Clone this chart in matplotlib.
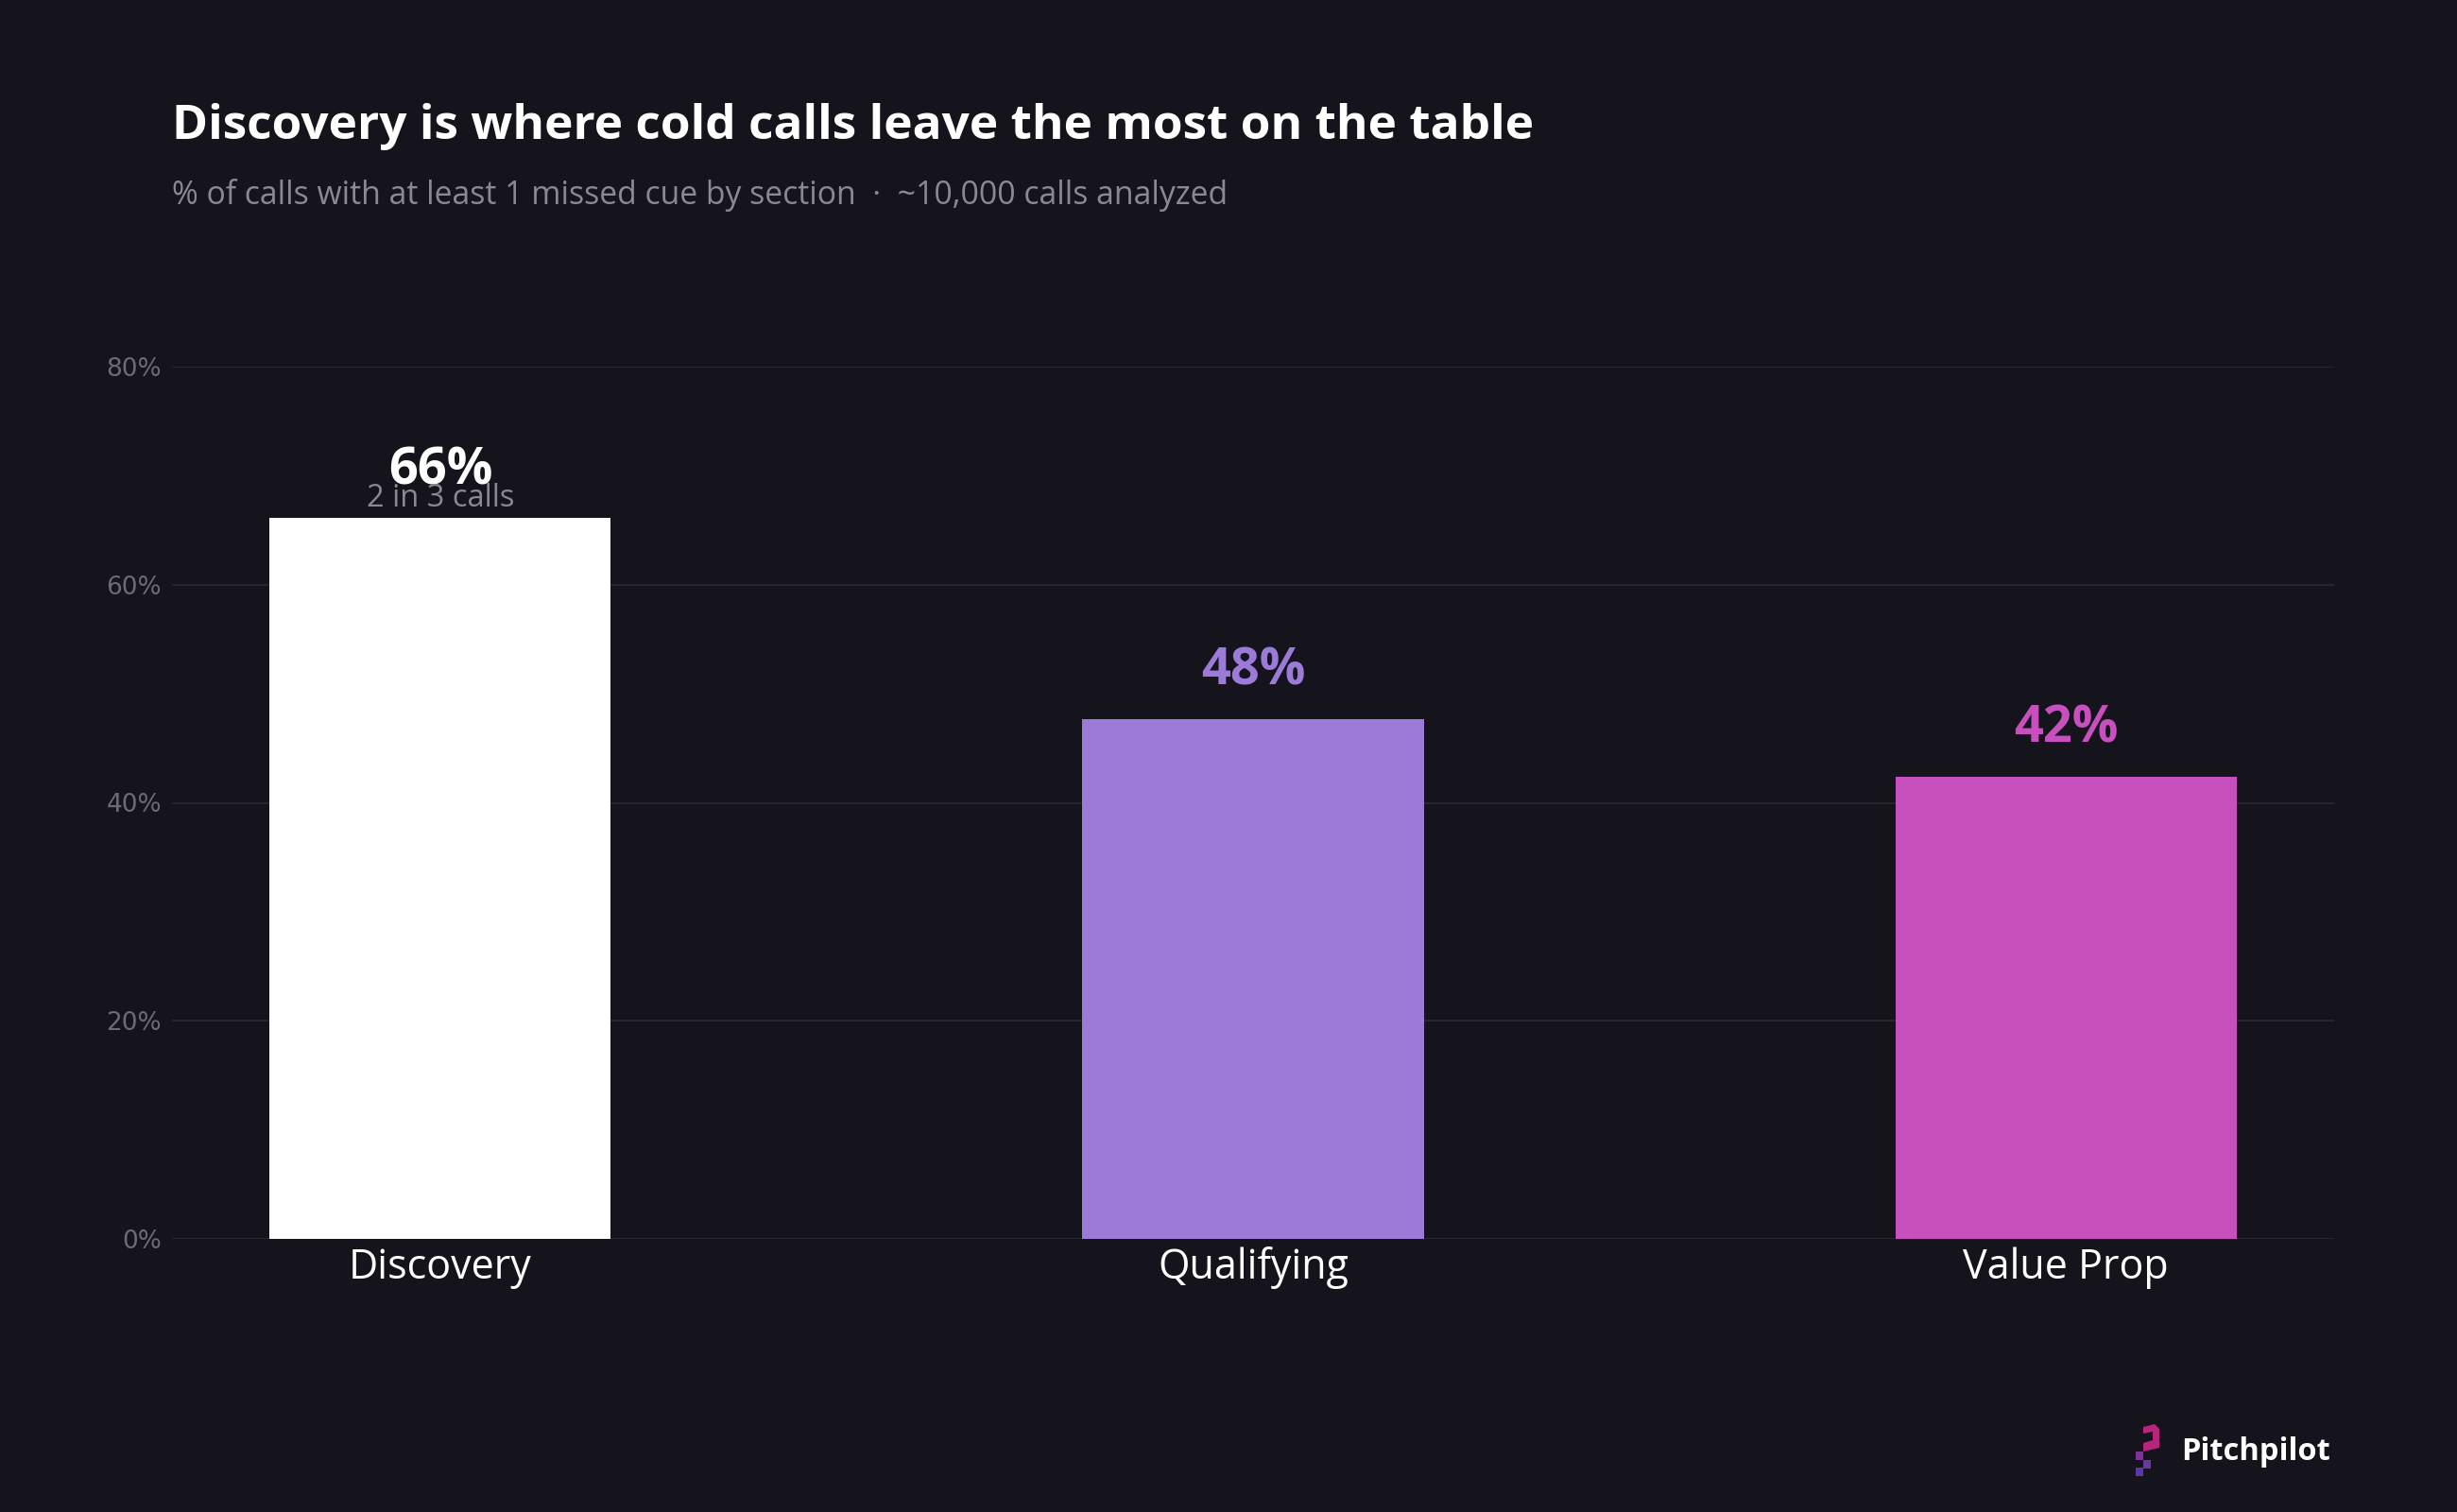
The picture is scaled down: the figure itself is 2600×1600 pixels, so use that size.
import matplotlib
matplotlib.use('Agg')
import matplotlib.pyplot as plt
from matplotlib.patches import Polygon, Rectangle

# data
sections = ['Discovery', 'Qualifying', 'Value Prop']
pct_missed = [66.1, 47.7, 42.4]
bar_colors = ['#ffffff', '#9b7bd7', '#c74fbe']
sub_notes = ['2 in 3 calls', '', '']
yticks = [0, 20, 40, 60, 80]

bg = '#15141d'
grid_col = '#2a2935'
tick_col = '#6c6b72'
sub_col = '#8a8990'

plt.rcParams['font.family'] = ['Open Sans', 'DejaVu Sans']

fig = plt.figure(figsize=(26, 16), dpi=100, facecolor=bg)
ax = fig.add_axes([182/2600, 1-1311/1600, (2470-182)/2600, (1311-388)/1600])
ax.set_facecolor(bg)

x = list(range(len(sections)))
ax.bar(x, pct_missed, width=0.42, color=bar_colors, zorder=3)

ax.set_xlim(-0.33, len(sections) - 1 + 0.33)
ax.set_ylim(0, 80)
ax.set_yticks(yticks)
ax.set_yticklabels([f'{t}%' for t in yticks], family='DejaVu Sans', fontsize=19, color=tick_col)
ax.set_xticks(x)
ax.set_xticklabels(sections, fontsize=31, color='white')
ax.tick_params(axis='both', length=0)
ax.tick_params(axis='y', pad=8)
ax.tick_params(axis='x', pad=6)
ax.grid(axis='y', color=grid_col, lw=1.2, zorder=0)
ax.set_axisbelow(True)
for s in ax.spines.values():
    s.set_visible(False)

# value labels
for i, v in enumerate(pct_missed):
    ax.annotate(f'{v:.0f}%', (i, v), xytext=(0, 26), textcoords='offset points',
                ha='center', va='baseline', fontsize=39, fontweight='bold',
                color=bar_colors[i], annotation_clip=False, zorder=4)
    if sub_notes[i]:
        ax.annotate(sub_notes[i], (i, v), xytext=(0, 9), textcoords='offset points',
                    ha='center', va='baseline', fontsize=23.5, color=sub_col,
                    annotation_clip=False, zorder=5)

# title block
fig.text(182/2600, 1-147/1600, 'Discovery is where cold calls leave the most on the table',
         fontsize=37, fontweight='bold', color='white', va='baseline', ha='left')
fig.text(182/2600, 1-216/1600,
         '% of calls with at least 1 missed cue by section  \u00b7  ~10,000 calls analyzed',
         fontsize=24.3, color=sub_col, va='baseline', ha='left')

# logo
def fp(px, py):
    return (px/2600, 1-py/1600)

top_shape = [fp(2268, 1510), fp(2280, 1507), fp(2285, 1512), fp(2285, 1532),
             fp(2268, 1536), fp(2268, 1527), fp(2278, 1524), fp(2278, 1515), fp(2268, 1517)]
fig.add_artist(Polygon(top_shape, closed=True, transform=fig.transFigure,
                       facecolor='#b8247c', edgecolor='none'))
for (px, py, c) in [(2260, 1536, '#7c3399'), (2268, 1545, '#6b36a3'), (2260, 1553, '#5a38a8')]:
    x0, y0 = fp(px, py + 9)
    fig.add_artist(Rectangle((x0, y0), 8/2600, 9/1600, transform=fig.transFigure,
                             facecolor=c, edgecolor='none'))
fig.text(2308/2600, 1-1545/1600, 'Pitchpilot', fontsize=23.5, fontweight='bold',
         color='white', va='baseline', ha='left')

fig.savefig('out.png', dpi=100, facecolor=bg)
